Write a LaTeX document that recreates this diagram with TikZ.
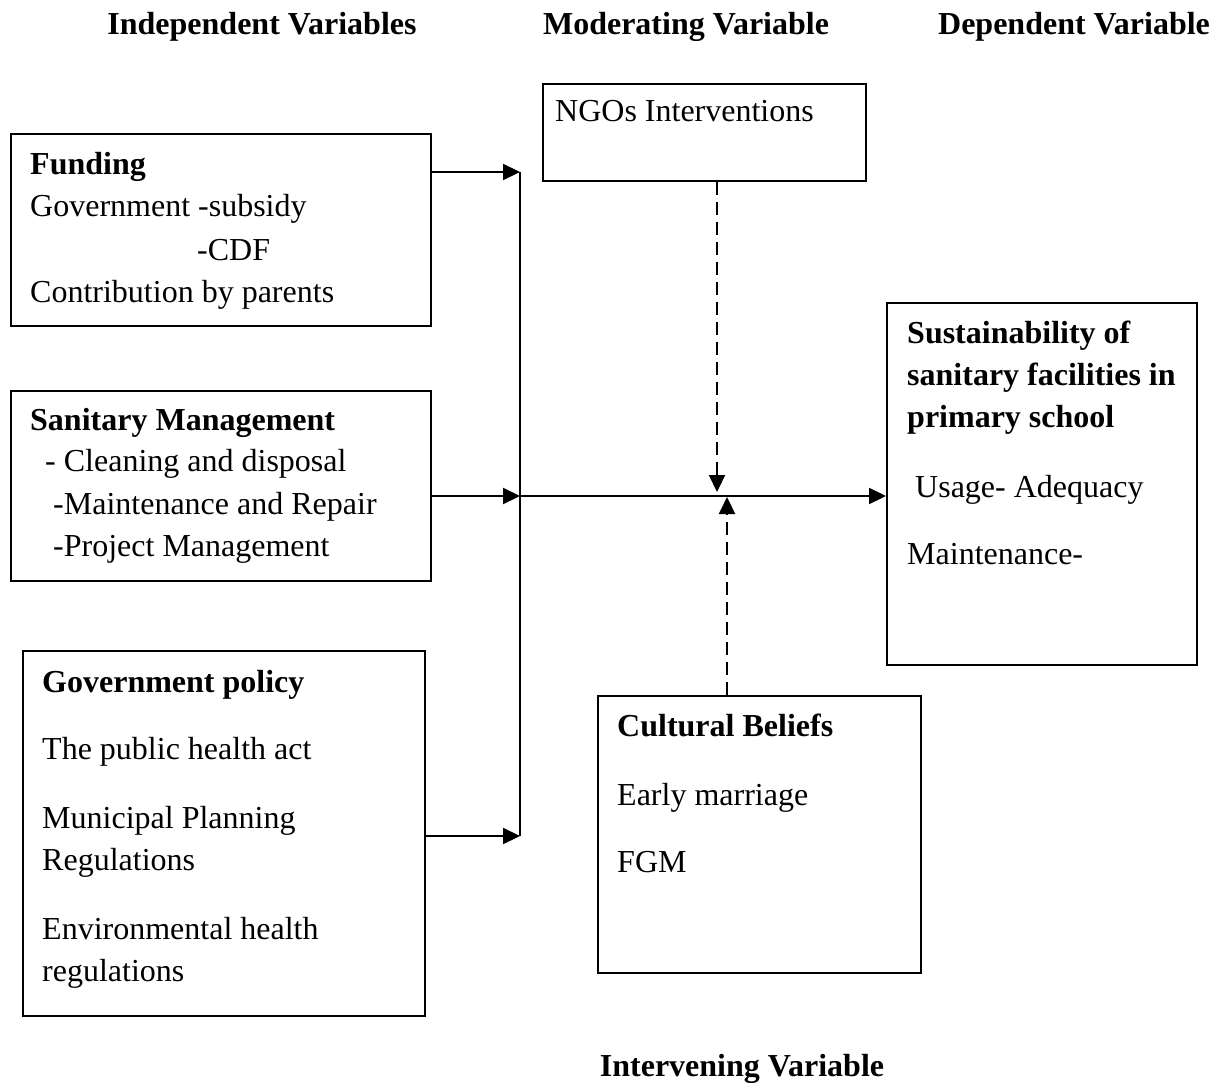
\documentclass[tikz,border=0pt]{standalone}
\usepackage{fontspec}
\setmainfont{Liberation Serif}
\usetikzlibrary{arrows.meta}
\begin{document}
\begin{tikzpicture}[x=1pt,y=-1pt,
  box/.style={draw,line width=1.6pt,rectangle,inner sep=0pt,anchor=north west},
  txt/.style={anchor=base west,inner sep=0pt,font=\fontsize{32}{38}\selectfont},
  btxt/.style={txt,font=\fontsize{32}{38}\selectfont\bfseries},
  head/.style={anchor=base,inner sep=0pt,font=\fontsize{32}{38}\selectfont\bfseries},
  conn/.style={line width=2.2pt},
  arr/.style={conn,-{Triangle[length=17pt,width=16pt]}},
  dasharr/.style={arr,dash pattern=on 13pt off 7pt}]
\useasboundingbox (0,0) rectangle (1225,1083);
% headers
\node[head] (h1) at (262,35) {Independent Variables};
\node[head] (h2) at (686,35) {Moderating Variable};
\node[head] (h3) at (1074,35) {Dependent Variable};
\node[head] (h4) at (742,1076) {Intervening Variable};
% boxes
\node[box,minimum width=420pt,minimum height=192pt] (fund) at (10,133) {};
\node[box,minimum width=420pt,minimum height=190pt] (sani) at (10,390) {};
\node[box,minimum width=402pt,minimum height=365pt] (gov) at (22,650) {};
\node[box,minimum width=323pt,minimum height=97pt] (ngo) at (542,83) {};
\node[box,minimum width=310pt,minimum height=362pt] (sust) at (886,302) {};
\node[box,minimum width=323pt,minimum height=277pt] (cult) at (597,695) {};
% funding text
\node[btxt] (f1) at (30,175) {Funding};
\node[txt] (f2) at (30,217) {Government -subsidy};
\node[txt] (f3) at (197,260) {-CDF};
\node[txt] (f4) at (30,302) {Contribution by parents};
% sanitary
\node[btxt] (s1) at (30,430) {Sanitary Management};
\node[txt] (s2) at (45,471) {- Cleaning and disposal};
\node[txt] (s3) at (53,514) {-Maintenance and Repair};
\node[txt] (s4) at (53,556) {-Project Management};
% government policy
\node[btxt] (g1) at (42,692) {Government policy};
\node[txt] (g2) at (42,759) {The public health act};
\node[txt] (g3) at (42,828) {Municipal Planning};
\node[txt] (g4) at (42,870) {Regulations};
\node[txt] (g5) at (42,939) {Environmental health};
\node[txt] (g6) at (42,981) {regulations};
% NGO
\node[txt] (n1) at (555,122) {NGOs Interventions};
% sustainability
\node[btxt] (d1) at (907,343) {Sustainability of};
\node[btxt] (d2) at (907,385) {sanitary facilities in};
\node[btxt] (d3) at (907,427) {primary school};
\node[txt] (d4) at (915,497) {Usage- Adequacy};
\node[txt] (d5) at (907,564) {Maintenance-};
% cultural
\node[btxt] (c1) at (617,736) {Cultural Beliefs};
\node[txt] (c2) at (617,805) {Early marriage};
\node[txt] (c3) at (617,872) {FGM};
% connectors
\coordinate (busTop) at (520,172);
\coordinate (busMid) at (520,496);
\coordinate (busBot) at (520,836);
\coordinate (modTip) at (717,492);
\coordinate (intTip) at (727,497);
\draw[conn] (busTop) -- (busBot);
\draw[arr] (fund.east |- busTop) -- (busTop);
\draw[arr] (sani.east |- busMid) -- (busMid);
\draw[arr] (gov.east |- busBot) -- (busBot);
\draw[arr] (busMid) -- (sust.west |- busMid);
\draw[dasharr] (ngo.south -| modTip) -- (modTip);
\draw[dasharr] (cult.north -| intTip) -- (intTip);
\end{tikzpicture}
\end{document}
